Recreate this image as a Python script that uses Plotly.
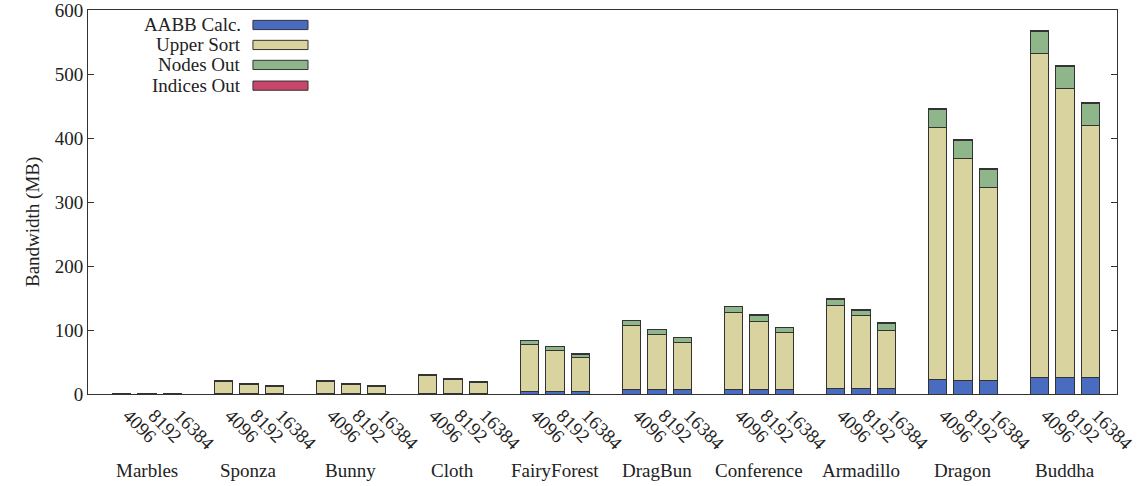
import plotly.graph_objects as go

# Scenes and leaf-size settings
scenes = ["Marbles", "Sponza", "Bunny", "Cloth", "FairyForest", "DragBun",
          "Conference", "Armadillo", "Dragon", "Buddha"]
sizes = ["4096", "8192", "16384"]

# Bandwidth per stage (MB), three bars (4096, 8192, 16384) per scene
aabb_calc = [0.3, 0.3, 0.3,  0.5, 0.5, 0.5,  0.8, 0.8, 0.8,  1.0, 1.0, 1.0,
             4.0, 4.0, 4.0,  6.5, 6.5, 6.5,  6.5, 6.5, 6.5,  8.0, 8.0, 8.0,
             22.0, 21.5, 21.5,  25.5, 25.5, 25.5]
upper_sort = [0.6, 0.5, 0.4,  19.1, 14.1, 11.4,  18.8, 14.8, 11.1,  27.2, 21.9, 16.7,
              73.3, 64.0, 53.5,  100.0, 86.0, 73.5,  120.5, 107.3, 89.1,  130.3, 114.0, 92.0,
              395.0, 346.5, 301.5,  506.0, 451.5, 394.0]
nodes_out = [0.2, 0.2, 0.1,  1.2, 1.2, 1.2,  1.2, 1.2, 1.2,  1.5, 1.5, 1.5,
             5.8, 5.5, 4.8,  7.8, 7.6, 8.1,  9.3, 9.5, 8.2,  9.6, 9.2, 10.2,
             27.5, 27.5, 27.5,  35.0, 34.5, 34.5]
indices_out = [0.05, 0.05, 0.05,  0.2, 0.2, 0.2,  0.2, 0.2, 0.2,  0.3, 0.3, 0.3,
               0.5, 0.5, 0.5,  0.7, 0.7, 0.7,  0.7, 0.7, 0.7,  0.8, 0.8, 0.8,
               1.5, 1.5, 1.5,  1.5, 1.5, 1.5]

series = [
    ("AABB Calc.", aabb_calc, "#4a6cc0"),
    ("Upper Sort", upper_sort, "#d9d3a0"),
    ("Nodes Out", nodes_out, "#8fb68b"),
    ("Indices Out", indices_out, "#c8466a"),
]

# Bar positions: three bars per scene followed by a one-bar gap
xpos = [4 * g + k for g in range(len(scenes)) for k in range(3)]
xlabels = [s for _ in scenes for s in sizes]

FONT = "Liberation Serif"
TEXT = "#222222"
EDGE = "#333333"
FS = 19

fig = go.Figure()
for name, vals, color in series:
    fig.add_trace(go.Bar(
        x=xpos, y=vals, name=name, width=0.73,
        marker=dict(color=color, line=dict(color=EDGE, width=1)),
        showlegend=False,
    ))

# Scene names under the rotated size labels
for g, scene in enumerate(scenes):
    fig.add_annotation(x=4 * g + 1, y=-0.198, xref="x", yref="paper",
                       text=scene, showarrow=False,
                       font=dict(family=FONT, size=FS, color=TEXT),
                       xanchor="center", yanchor="middle")

# Y axis title
fig.add_annotation(x=-0.0534, y=0.448, xref="paper", yref="paper",
                   text="Bandwidth (MB)", textangle=-90, showarrow=False,
                   font=dict(family=FONT, size=FS, color=TEXT),
                   xanchor="center", yanchor="middle")

# Key in the upper-left corner: label on the left, swatch on the right
key_rows = [0.961, 0.909, 0.857, 0.803]
for (name, _, color), yk in zip(series, key_rows):
    fig.add_annotation(x=0.1506, y=yk, xref="paper", yref="paper",
                       text=name, showarrow=False,
                       font=dict(family=FONT, size=FS, color=TEXT),
                       xanchor="right", yanchor="middle")
    fig.add_shape(type="rect", xref="paper", yref="paper",
                  x0=0.1603, x1=0.2138, y0=yk - 0.012, y1=yk + 0.012,
                  fillcolor=color, line=dict(color=EDGE, width=1))

fig.update_layout(
    barmode="stack",
    width=1142, height=486,
    margin=dict(l=88, r=25, t=10, b=92, autoexpand=False),
    paper_bgcolor="white", plot_bgcolor="white",
    font=dict(family=FONT, size=FS, color=TEXT),
)
fig.update_xaxes(
    range=[-1.31, 39.04], automargin=False,
    tickmode="array", tickvals=xpos, ticktext=xlabels,
    tickangle=45, ticks="", showgrid=False, zeroline=False,
    ticklabelshift=7, ticklabelstandoff=2,
    showline=True, linecolor=EDGE, linewidth=1, mirror=True,
    tickfont=dict(family=FONT, size=FS, color=TEXT),
)
fig.update_yaxes(
    range=[0, 600], automargin=False,
    tickmode="array", tickvals=[0, 100, 200, 300, 400, 500, 600],
    ticks="inside", ticklen=6, tickcolor=EDGE, ticklabeloverflow="allow",
    showgrid=False, zeroline=False,
    showline=True, linecolor=EDGE, linewidth=1, mirror="allticks",
    tickfont=dict(family=FONT, size=FS, color=TEXT),
)

fig.write_html("out.html")
